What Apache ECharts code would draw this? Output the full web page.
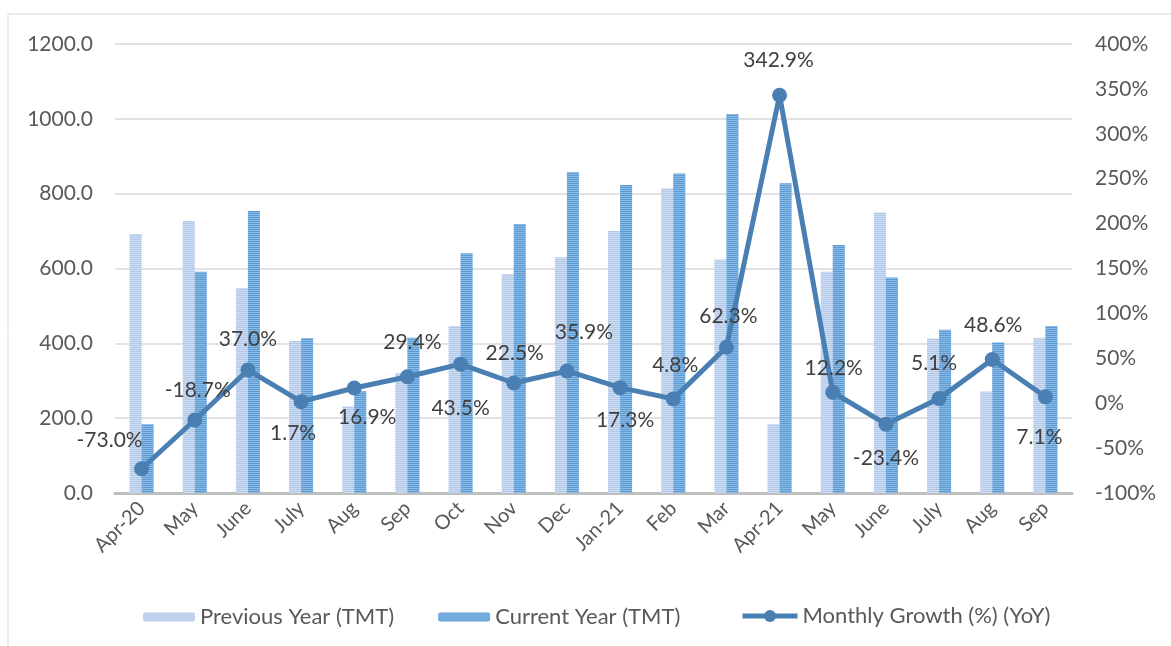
<!DOCTYPE html>
<html><head><meta charset="utf-8">
<script src="https://cdn.jsdelivr.net/npm/echarts@6/dist/echarts.min.js"></script>
<style>html,body{margin:0;padding:0;background:#fff}#c{width:1171px;height:646px}</style>
</head><body><div id="c"></div>
<script>
const categories = ['Apr-20','May','June','July','Aug','Sep','Oct','Nov','Dec','Jan-21','Feb','Mar','Apr-21','May','June','July','Aug','Sep'];
const previousYear = [692,727,548,406,231,320,446,585,630,700,814,624,184,591,750,413,271,415];
const currentYear = [184,591,754,414,272,415,641,719,857,823,854,1013,828,663,576,436,402,446];
const growth = [-73.0,-18.7,37.0,1.7,16.9,29.4,43.5,22.5,35.9,17.3,4.8,62.3,342.9,12.2,-23.4,5.1,48.6,7.1];
// label placement (style only): offset of label centre from its point, in px
const labelOffsets = [[-32,-29],[3,-30],[0,-31],[-8,32],[13,29],[5,-35],[0,44],[1,-30],[17,-39],[5,33],[2,-34],[2,-31],[-1,-35],[1,-24],[0,34],[-5,-35],[1,-34],[-6,40]];

const font = 'Lato, "Liberation Sans", sans-serif';
const chart = echarts.init(document.getElementById('c'));
const growthData = growth.map((v,i)=>({value:v, label:{position:'inside', offset:labelOffsets[i]}}));
const legendText = {fontSize:22, color:'#595959', fontFamily:font};
chart.setOption({
  animation:false,
  textStyle:{fontFamily:font},
  graphic:[{type:'rect', shape:{x:8,y:14,width:1300,height:800}, style:{fill:'none', stroke:'#d9d9d9', lineWidth:1}, silent:true}],
  grid:{left:115, right:99, top:44, bottom:153},
  legend:[{
    bottom:13, left:138, itemGap:44, itemWidth:52, itemHeight:9,
    textStyle:legendText,
    data:['Previous Year (TMT)','Current Year (TMT)']
  },{
    bottom:14, left:735, itemWidth:55, itemHeight:15,
    textStyle:legendText,
    data:[{name:'Monthly Growth (%) (YoY)', lineStyle:{width:5, color:'#4a7fb3'}, itemStyle:{color:'#4a7fb3'}}]
  }],
  xAxis:{
    type:'category', data:categories,
    axisLine:{lineStyle:{color:'#bfbfbf', width:3}},
    axisTick:{show:false},
    axisLabel:{rotate:45, fontSize:20, color:'#595959', margin:12, interval:0, fontFamily:font}
  },
  yAxis:[{
    type:'value', min:0, max:1200, interval:200,
    axisLabel:{formatter:v=>v.toFixed(1), fontSize:21, color:'#595959', margin:22, fontFamily:font},
    splitLine:{lineStyle:{color:'#d9d9d9', width:1.5}},
    axisLine:{show:false}, axisTick:{show:false}
  },{
    type:'value', min:-100, max:400, interval:50,
    axisLabel:{formatter:v=>v+'%', fontSize:21, color:'#595959', margin:23, fontFamily:font},
    splitLine:{show:false}, axisLine:{show:false}, axisTick:{show:false}
  }],
  series:[{
    name:'Previous Year (TMT)', type:'bar', data:previousYear, barWidth:12, barGap:'0%',
    itemStyle:{color:'#b3c9ea', decal:{symbol:'rect', dashArrayX:[1,0], dashArrayY:[1,1], rotation:0, color:'rgba(255,255,255,0.35)'}}
  },{
    name:'Current Year (TMT)', type:'bar', data:currentYear, barWidth:12,
    itemStyle:{color:'#5b9bd5', decal:{symbol:'rect', dashArrayX:[1,0], dashArrayY:[1,1], rotation:0, color:'rgba(200,225,245,0.45)'}}
  },{
    name:'Monthly Growth (%) (YoY)', type:'line', yAxisIndex:1, data:growthData,
    symbol:'circle', symbolSize:15,
    lineStyle:{color:'#4a7fb3', width:5}, itemStyle:{color:'#4a7fb3'},
    label:{show:true, formatter:p=>p.value.toFixed(1)+'%', fontSize:21, color:'#404040', fontFamily:font}
  }]
});
</script></body></html>
